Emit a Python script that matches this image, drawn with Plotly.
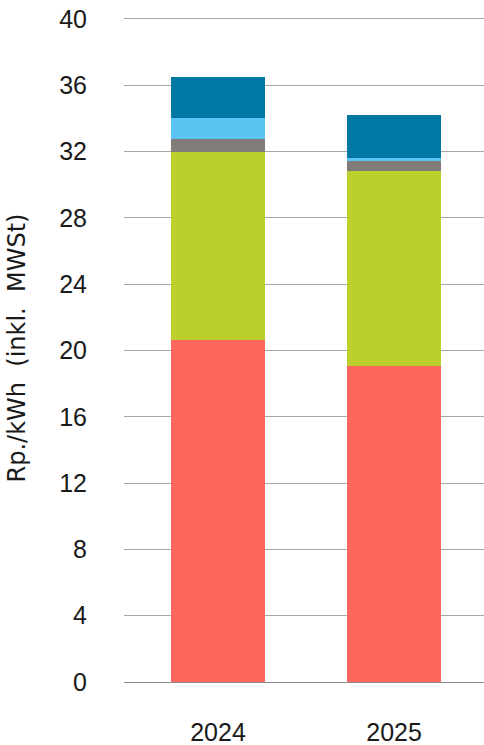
import plotly.graph_objects as go

years = ["2024", "2025"]
series_names = ["Netznutzung", "Energie", "Abgaben", "Netzzuschlag", "Übrige"]
red_vals = [20.64, 19.07]
green_vals = [11.34, 11.75]
grey_vals = [0.77, 0.60]
lightblue_vals = [1.28, 0.18]
darkblue_vals = [2.47, 2.59]
y_ticks = [0, 4, 8, 12, 16, 20, 24, 28, 32, 36, 40]

colors = ["#FF675E", "#BBD02D", "#807C79", "#5BC3F2", "#0078A3"]
values = [red_vals, green_vals, grey_vals, lightblue_vals, darkblue_vals]

fig = go.Figure()
for name, vals, col in zip(series_names, values, colors):
    fig.add_trace(go.Bar(x=years, y=vals, name=name, marker=dict(color=col, line=dict(width=0)),
                         width=0.534, showlegend=False))

font_family = "Liberation Sans"
fig.update_layout(
    barmode="stack",
    width=484, height=745,
    margin=dict(l=124, r=0, t=14, b=63),
    paper_bgcolor="white", plot_bgcolor="white",
    font=dict(family=font_family, color="#1a1a1a"),
    xaxis=dict(range=[-0.534, 1.511], showgrid=False, showline=True, linecolor="#8c8c8c",
               linewidth=1, ticks="", tickfont=dict(size=25), ticklabelstandoff=28,
               automargin=False, ticklabeloverflow="allow"),
    yaxis=dict(range=[0, 40.3], tickvals=y_ticks, showgrid=True, gridcolor="#a6a6a6", gridwidth=1,
               zeroline=False, showline=False, ticks="", tickfont=dict(size=25),
               ticklabelstandoff=36, automargin=False, ticklabeloverflow="allow",
               title=dict(text="Rp./kWh  (inkl.  MWSt)",
                          font=dict(size=24, family="DejaVu Sans"), standoff=26)),
)

fig.write_html("out.html", config={"displayModeBar": False},
               post_script="document.body.style.margin='0';document.body.style.overflow='hidden';")
